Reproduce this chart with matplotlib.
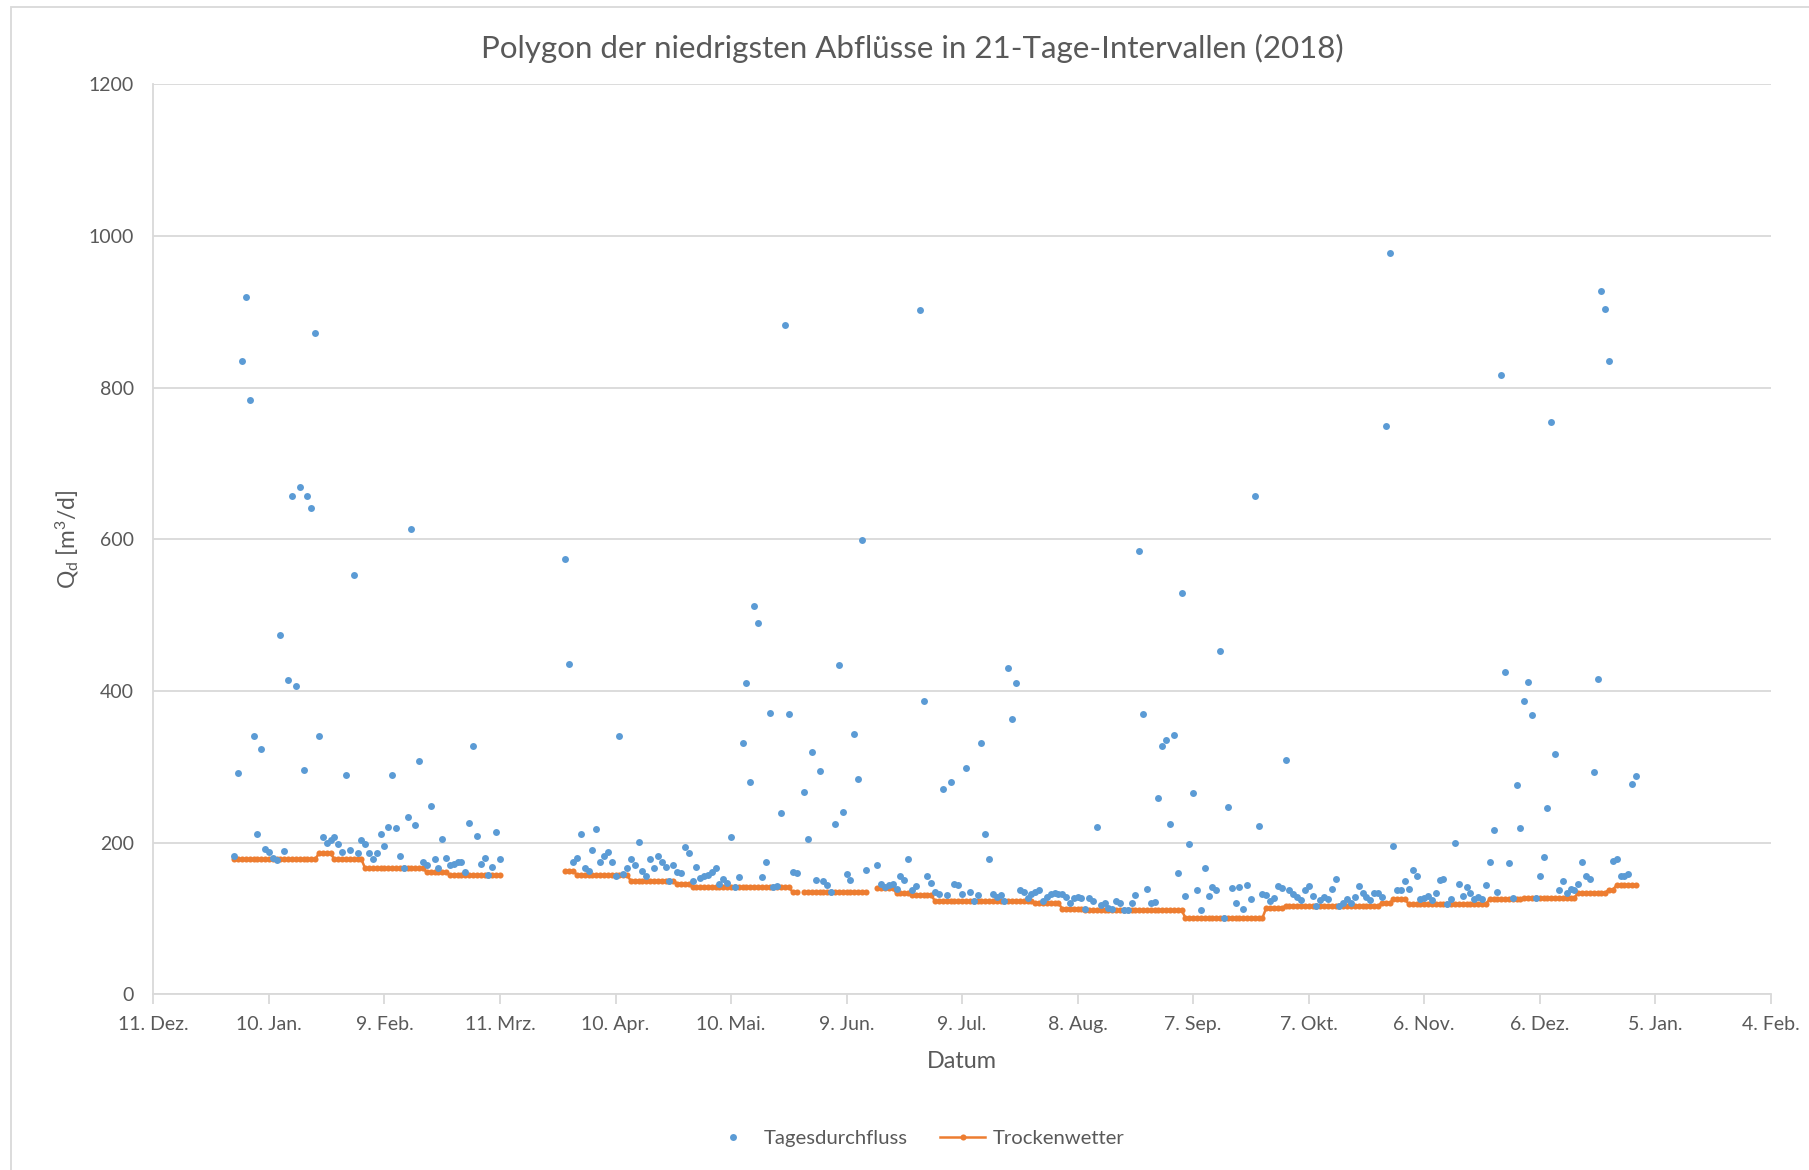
import numpy as np
import matplotlib
matplotlib.use("Agg")
import matplotlib.pyplot as plt
from matplotlib.lines import Line2D
from matplotlib.patches import Rectangle

plt.rcParams['font.family'] = ['Lato', 'DejaVu Sans']
plt.rcParams['mathtext.default'] = 'regular'

# ---------------- data ----------------
title = "Polygon der niedrigsten Abflüsse in 21-Tage-Intervallen (2018)"
x_title = "Datum"
y_title = "Q$_d$ [m$^3$/d]"
series_names = ["Tagesdurchfluss", "Trockenwetter"]

# Tagesdurchfluss, period 1: 2018-01-01 .. 2018-03-11
start_1 = "2018-01-01"
tages_1 = [182, 292, 835, 920, 783, 340, 212, 324, 191, 187,
           180, 177, 474, 189, 415, 657, 406, 669, 296, 657,
           641, 872, 340, 207, 200, 203, 207, 198, 188, 289,
           190, 553, 186, 203, 198, 186, 178, 186, 211, 196,
           221, 289, 219, 183, 166, 234, 614, 223, 308, 175,
           171, 248, 178, 167, 205, 180, 171, 172, 174, 175,
           161, 226, 327, 209, 172, 180, 157, 168, 214, 178]

# Tagesdurchfluss, period 2: 2018-03-28 .. 2018-12-31 (nan = no value)
nan = np.nan
start_2 = "2018-03-28"
tages_2 = [574, 436, 174, 180, 212, 167, 163, 190, 218, 175,
           183, 187, 174, 156.5, 340, 158, 166, 178, 170, 201,
           162.5, 156.5, 178.5, 167, 182, 174, 168.5, 149.5, 170.5, 161.5,
           160, 194, 186, 149.5, 168, 154, 156, 157, 161, 166,
           145.5, 152, 146.5, 208, 141, 155, 332, 410, 279.5, 512,
           489, 155, 175, 371, 142, 142.5, 238.5, 882, 369, 161.5,
           160, nan, 267, 204.6, 319, 150.5, 294, 150, 144.5, 135.5,
           225, 434.7, 240, 158, 151, 343, 284, 599, 164, nan,
           nan, 171, 146, 141, 144, 146, 139, 156.5, 151, 179,
           138, 143, 902, 387, 156.5, 147, 134.5, 132, 271, 131,
           279.5, 146, 143.5, 132, 299, 134.5, 123, 131, 331, 212,
           179, 132, 128, 131, 123, 430, 363, 410, 137.5, 135,
           126.6, 132, 135.4, 138, 123.4, 128.7, 132, 133, 132, 132,
           128.7, 120, 126.6, 128.7, 126.6, 112, 126.6, 122.7, 220, 117.5,
           120, 114.3, 113, 123.4, 120, 111, 111, 120, 131, 584,
           369, 139, 120, 122, 259, 327, 335, 224, 342, 159.5,
           529, 130, 198, 265, 137, 111, 167, 130, 141, 137.5,
           453, 101, 247, 140, 120, 141.5, 113, 143.6, 125, 657,
           222, 132, 131, 122.7, 126.6, 142.8, 140, 309, 137.5, 132,
           127.7, 124.7, 137.5, 142.8, 130, 116.5, 124.7, 128.5, 125, 138.8,
           152.4, 116.5, 120, 125, 120, 128.7, 142.8, 133, 128, 124.7,
           133, 133, 128.7, 749, 977, 195.6, 137.5, 137, 150, 139,
           164, 155.5, 126, 127.4, 129.5, 124.3, 133, 150.6, 152.4, 119,
           125, 200, 145, 130, 141, 134, 125, 128.7, 125, 144,
           174, 216, 134.4, 816, 425, 173, 127.4, 276, 219, 387,
           412, 368, 126.5, 155.6, 181, 246, 754, 317.5, 138, 150,
           133, 139, 137.5, 145, 174, 156.4, 152.4, 293, 416, 927,
           903.5, 835, 176, 177.8, 156, 156.4, 158.6, 277.7, 288]

# Trockenwetter: constant levels between first and last date (inclusive)
tw_from = ["2018-01-01", "2018-01-23", "2018-01-27", "2018-02-04", "2018-02-20", "2018-02-26",
           "2018-03-28", "2018-03-31", "2018-04-14", "2018-04-26", "2018-04-30", "2018-05-26",
           "2018-05-29", "2018-06-17", "2018-06-22", "2018-06-26", "2018-07-02", "2018-07-28",
           "2018-08-04", "2018-08-10", "2018-09-05", "2018-09-26", "2018-10-01", "2018-10-26",
           "2018-10-29", "2018-11-02", "2018-11-23", "2018-12-02", "2018-12-16", "2018-12-24",
           "2018-12-26"]
tw_to = ["2018-01-22", "2018-01-26", "2018-02-03", "2018-02-19", "2018-02-25", "2018-03-11",
         "2018-03-30", "2018-04-13", "2018-04-25", "2018-04-29", "2018-05-25", "2018-05-27",
         "2018-06-14", "2018-06-21", "2018-06-25", "2018-07-01", "2018-07-27", "2018-08-03",
         "2018-08-09", "2018-09-04", "2018-09-25", "2018-09-30", "2018-10-25", "2018-10-28",
         "2018-11-01", "2018-11-22", "2018-12-01", "2018-12-15", "2018-12-23", "2018-12-25",
         "2018-12-31"]
tw_level = [178, 186, 178, 166, 161, 157,
            163, 157, 149.5, 146, 141, 135,
            135, 140, 133, 131, 122.5, 120,
            113, 110.5, 101, 114, 116.5, 120.5,
            125, 119, 125.5, 127.5, 134, 138,
            144]

tick_dates = ["2017-12-11", "2018-01-10", "2018-02-09", "2018-03-11", "2018-04-10",
              "2018-05-10", "2018-06-09", "2018-07-09", "2018-08-08", "2018-09-07",
              "2018-10-07", "2018-11-06", "2018-12-06", "2019-01-05", "2019-02-04"]
tick_labels = ["11. Dez.", "10. Jan.", "9. Feb.", "11. Mrz.", "10. Apr.",
               "10. Mai.", "9. Jun.", "9. Jul.", "8. Aug.", "7. Sep.",
               "7. Okt.", "6. Nov.", "6. Dez.", "5. Jan.", "4. Feb."]
y_ticks = [0, 200, 400, 600, 800, 1000, 1200]

# ---------------- build date axes ----------------
d1 = np.datetime64(start_1) + np.arange(len(tages_1))
d2 = np.datetime64(start_2) + np.arange(len(tages_2))

tw_dates, tw_vals = [], []
prev_end = None
for a, b, lv in zip(tw_from, tw_to, tw_level):
    a = np.datetime64(a); b = np.datetime64(b)
    if prev_end is not None and a - prev_end > np.timedelta64(1, 'D'):
        tw_dates.append(prev_end + 1); tw_vals.append(np.nan)  # break the line
    days = np.arange(a, b + 1)
    tw_dates.extend(days); tw_vals.extend([lv] * len(days))
    prev_end = b
tw_dates = np.array(tw_dates, dtype='datetime64[D]')
tw_vals = np.array(tw_vals, dtype=float)

# ---------------- figure ----------------
W, H = 1809, 1170
fig = plt.figure(figsize=(W / 100, H / 100), dpi=100)
fig.patch.set_facecolor('white')
fig.add_artist(Rectangle((11 / W, -0.5), 2, 0.5 + 1 - 7 / H, transform=fig.transFigure,
                         fill=False, edgecolor='#D9D9D9', linewidth=1.3))

ax = fig.add_axes([153.4 / W, 1 - 994.3 / H, (1770.8 - 153.4) / W, (994.3 - 84.2) / H])

blue = '#5B9BD5'
orange = '#ED7D31'
gray_text = '#595959'
grid_c = '#D9D9D9'

ax.plot(tw_dates, tw_vals, '-o', color=orange, lw=1.8, ms=4.4, markeredgewidth=0, zorder=2)
ax.plot(d1, tages_1, 'o', color=blue, ms=5.0, markeredgewidth=0, zorder=3)
ax.plot(d2, tages_2, 'o', color=blue, ms=5.0, markeredgewidth=0, zorder=3)

ax.set_xlim(np.datetime64(tick_dates[0]), np.datetime64(tick_dates[-1]))
ax.set_ylim(0, 1200)
ax.set_xticks([np.datetime64(t) for t in tick_dates])
ax.set_xticklabels(tick_labels)
ax.set_yticks(y_ticks)
ax.set_yticklabels([str(v) for v in y_ticks])

ax.grid(axis='y', color=grid_c, lw=1.3, zorder=0)
ax.set_axisbelow(True)
for s in ['top', 'right']:
    ax.spines[s].set_visible(False)
ax.spines['left'].set_color(grid_c)
ax.spines['left'].set_linewidth(1.3)
ax.spines['bottom'].set_color(grid_c)
ax.spines['bottom'].set_linewidth(1.3)

ax.tick_params(axis='x', direction='out', length=7, width=1.3, color=grid_c,
               labelcolor=gray_text, labelsize=14, pad=8.5)
ax.tick_params(axis='y', length=0, labelcolor=gray_text, labelsize=14, pad=14)

fig.text(912.6 / W, 1 - 48.5 / H, title, ha='center', va='center', fontsize=22.5, color=gray_text)
fig.text(962 / W, 1 - 1061.5 / H, x_title, ha='center', va='center', fontsize=16.8, color=gray_text)
fig.text(67 / W, 1 - 539 / H, y_title, ha='center', va='center', rotation=90,
         fontsize=16.4, color=gray_text)

handles = [Line2D([], [], ls='none', marker='o', color=blue, ms=5.0, markeredgewidth=0),
           Line2D([], [], ls='-', marker='o', color=orange, lw=1.8, ms=4.4, markeredgewidth=0)]
fig.legend(handles, series_names, loc='center', bbox_to_anchor=(918 / W, 1 - 1138 / H),
           ncol=2, frameon=False, fontsize=14.6, labelcolor=gray_text,
           handlelength=2.2, columnspacing=1.6, handletextpad=0.4)

fig.savefig('out.png', dpi=100, facecolor='white')
